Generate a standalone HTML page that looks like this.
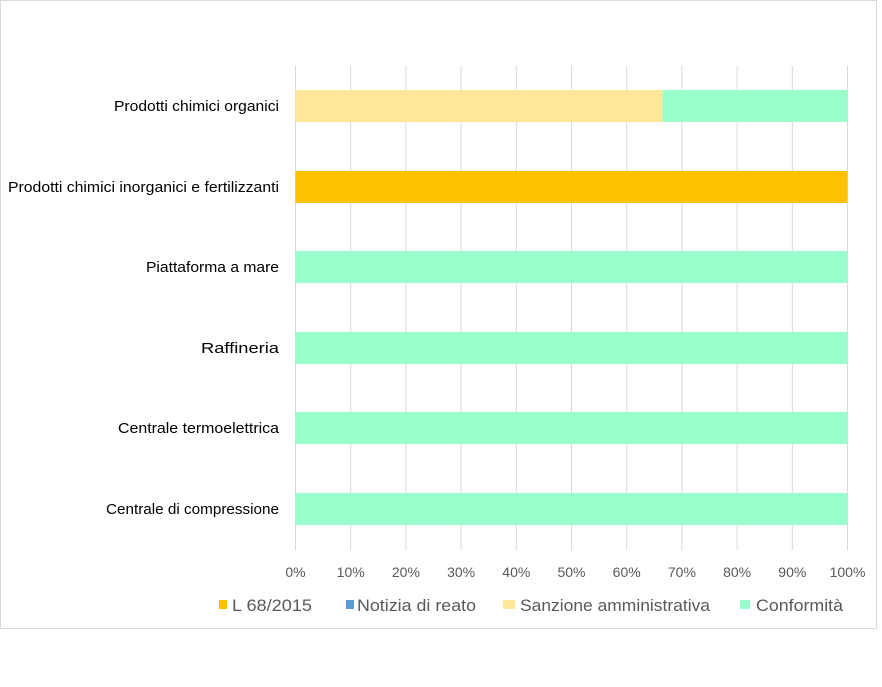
<!DOCTYPE html><html><head><style>body{margin:0;background:#fff}svg text{font-family:"Liberation Sans",sans-serif}</style></head><body>
<svg width="882" height="682" xmlns="http://www.w3.org/2000/svg">
<rect x="0.5" y="0.5" width="876" height="628" fill="#fff" stroke="#d9d9d9"/>
<g stroke="#d9d9d9" stroke-width="1">
<line x1="295.5" y1="66" x2="295.5" y2="550"/><line x1="350.7" y1="66" x2="350.7" y2="550"/><line x1="405.9" y1="66" x2="405.9" y2="550"/><line x1="461.1" y1="66" x2="461.1" y2="550"/><line x1="516.3" y1="66" x2="516.3" y2="550"/><line x1="571.5" y1="66" x2="571.5" y2="550"/><line x1="626.7" y1="66" x2="626.7" y2="550"/><line x1="681.9" y1="66" x2="681.9" y2="550"/><line x1="737.1" y1="66" x2="737.1" y2="550"/><line x1="792.3" y1="66" x2="792.3" y2="550"/><line x1="847.5" y1="66" x2="847.5" y2="550"/>
</g>
<rect x="295.5" y="90" width="367" height="32" fill="#ffe699"/>
<rect x="662.5" y="90" width="185" height="32" fill="#99ffcc"/>
<rect x="295.5" y="171" width="552" height="32" fill="#ffc000"/>
<rect x="295.5" y="251" width="552" height="32" fill="#99ffcc"/>
<rect x="295.5" y="332" width="552" height="32" fill="#99ffcc"/>
<rect x="295.5" y="412" width="552" height="32" fill="#99ffcc"/>
<rect x="295.5" y="493" width="552" height="32" fill="#99ffcc"/>
<g font-size="15" fill="#000" text-anchor="end" lengthAdjust="spacingAndGlyphs">
<text x="279" y="111" textLength="165" lengthAdjust="spacingAndGlyphs">Prodotti chimici organici</text>
<text x="279" y="192" textLength="271" lengthAdjust="spacingAndGlyphs">Prodotti chimici inorganici e fertilizzanti</text>
<text x="279" y="272" textLength="133" lengthAdjust="spacingAndGlyphs">Piattaforma a mare</text>
<text x="279" y="353" textLength="78" lengthAdjust="spacingAndGlyphs">Raffineria</text>
<text x="279" y="433" textLength="161" lengthAdjust="spacingAndGlyphs">Centrale termoelettrica</text>
<text x="279" y="514" textLength="173" lengthAdjust="spacingAndGlyphs">Centrale di compressione</text>
</g>
<g font-size="14" fill="#595959" text-anchor="middle">
<text x="295.5" y="577">0%</text><text x="350.7" y="577">10%</text><text x="405.9" y="577">20%</text><text x="461.1" y="577">30%</text><text x="516.3" y="577">40%</text><text x="571.5" y="577">50%</text><text x="626.7" y="577">60%</text><text x="681.9" y="577">70%</text><text x="737.1" y="577">80%</text><text x="792.3" y="577">90%</text><text x="847.5" y="577">100%</text>
</g>
<g font-size="16.5" fill="#595959">
<rect x="219" y="600" width="8" height="9" fill="#ffc000"/><text x="232" y="611" textLength="80" lengthAdjust="spacingAndGlyphs">L 68/2015</text>
<rect x="346" y="600" width="8" height="9" fill="#5b9bd5"/><text x="357" y="611" textLength="119" lengthAdjust="spacingAndGlyphs">Notizia di reato</text>
<rect x="503" y="600" width="12" height="9" fill="#ffe699"/><text x="520" y="611" textLength="190" lengthAdjust="spacingAndGlyphs">Sanzione amministrativa</text>
<rect x="740" y="600" width="10" height="9" fill="#99ffcc"/><text x="756" y="611" textLength="87" lengthAdjust="spacingAndGlyphs">Conformità</text>
</g>
</svg></body></html>
